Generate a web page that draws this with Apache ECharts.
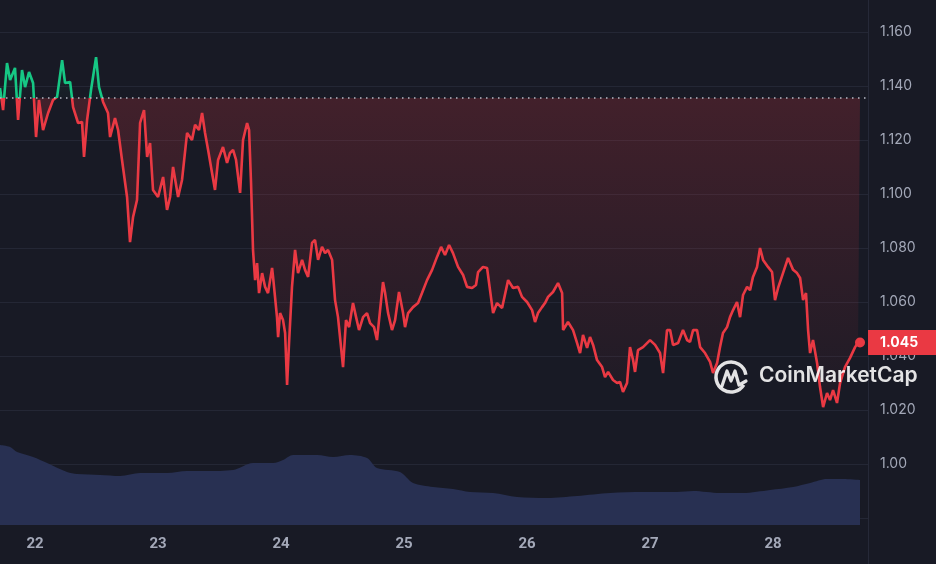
<!DOCTYPE html>
<html>
<head>
<meta charset="utf-8">
<script src="https://cdn.jsdelivr.net/npm/echarts@6/dist/echarts.min.js"></script>
<style>
html,body{margin:0;padding:0;background:#181a25;}
#chart{width:936px;height:564px;}
</style>
</head>
<body>
<div id="chart"></div>
<script>
// ---- data (day of month, price) ----
const days = [21.715,21.740,21.772,21.797,21.837,21.862,21.894,21.919,21.951,21.984,22.008,22.032,22.065,22.106,22.146,22.179,22.220,22.244,22.285,22.309,22.350,22.382,22.398,22.423,22.455,22.496,22.520,22.553,22.593,22.610,22.650,22.675,22.707,22.748,22.772,22.797,22.829,22.854,22.886,22.911,22.935,22.959,23.000,23.041,23.073,23.098,23.122,23.163,23.195,23.236,23.276,23.301,23.333,23.358,23.382,23.407,23.439,23.463,23.488,23.528,23.561,23.585,23.610,23.634,23.667,23.691,23.724,23.740,23.756,23.772,23.789,23.805,23.821,23.846,23.870,23.894,23.927,23.935,23.967,23.976,23.992,24.016,24.033,24.049,24.065,24.089,24.114,24.138,24.171,24.195,24.220,24.252,24.276,24.301,24.333,24.358,24.382,24.415,24.439,24.463,24.504,24.528,24.553,24.585,24.610,24.634,24.667,24.699,24.724,24.756,24.780,24.805,24.829,24.846,24.870,24.902,24.927,24.959,24.992,25.008,25.033,25.073,25.114,25.146,25.187,25.228,25.268,25.301,25.333,25.366,25.398,25.439,25.480,25.512,25.553,25.585,25.602,25.642,25.675,25.699,25.724,25.756,25.797,25.846,25.886,25.927,25.959,26.000,26.041,26.065,26.089,26.122,26.146,26.171,26.211,26.252,26.285,26.293,26.333,26.374,26.407,26.431,26.455,26.488,26.512,26.537,26.569,26.610,26.634,26.659,26.699,26.732,26.756,26.780,26.813,26.837,26.862,26.878,26.902,26.943,27.000,27.041,27.081,27.106,27.138,27.163,27.187,27.228,27.268,27.301,27.325,27.350,27.382,27.407,27.447,27.488,27.512,27.545,27.569,27.593,27.626,27.650,27.675,27.707,27.732,27.756,27.789,27.813,27.837,27.870,27.894,27.919,27.959,27.992,28.016,28.041,28.081,28.122,28.163,28.195,28.220,28.244,28.268,28.285,28.301,28.325,28.358,28.382,28.407,28.439,28.463,28.488,28.520,28.545,28.585,28.626,28.667,28.691,28.707];
const prices = [1.1393,1.1311,1.1485,1.1422,1.1467,1.1274,1.1459,1.1396,1.1452,1.1411,1.1211,1.1348,1.1237,1.1300,1.1348,1.1359,1.1496,1.1411,1.1415,1.1322,1.1263,1.1267,1.1137,1.1274,1.1385,1.1507,1.1396,1.1341,1.1300,1.1211,1.1281,1.1237,1.1126,1.0989,1.0822,1.0915,1.0978,1.1263,1.1311,1.1137,1.1189,1.1015,1.0989,1.1063,1.0941,1.0989,1.1100,1.0989,1.1052,1.1226,1.1200,1.1256,1.1237,1.1300,1.1226,1.1163,1.1078,1.1015,1.1126,1.1174,1.1115,1.1152,1.1163,1.1126,1.1004,1.1200,1.1263,1.1237,1.1041,1.0793,1.0681,1.0744,1.0633,1.0707,1.0656,1.0633,1.0726,1.0693,1.0544,1.0470,1.0559,1.0533,1.0485,1.0293,1.0448,1.0656,1.0793,1.0707,1.0756,1.0719,1.0693,1.0819,1.0830,1.0756,1.0804,1.0781,1.0793,1.0756,1.0607,1.0544,1.0359,1.0533,1.0507,1.0596,1.0544,1.0496,1.0544,1.0559,1.0522,1.0507,1.0459,1.0570,1.0674,1.0633,1.0559,1.0496,1.0533,1.0637,1.0559,1.0507,1.0559,1.0581,1.0596,1.0633,1.0681,1.0719,1.0767,1.0804,1.0774,1.0811,1.0781,1.0730,1.0700,1.0656,1.0652,1.0663,1.0711,1.0730,1.0726,1.0644,1.0559,1.0596,1.0578,1.0681,1.0652,1.0656,1.0619,1.0600,1.0570,1.0526,1.0559,1.0581,1.0596,1.0619,1.0637,1.0670,1.0633,1.0496,1.0526,1.0496,1.0448,1.0411,1.0478,1.0430,1.0470,1.0441,1.0385,1.0359,1.0322,1.0341,1.0311,1.0300,1.0304,1.0267,1.0300,1.0433,1.0385,1.0341,1.0422,1.0433,1.0459,1.0441,1.0411,1.0337,1.0496,1.0496,1.0441,1.0448,1.0496,1.0459,1.0452,1.0496,1.0496,1.0433,1.0411,1.0378,1.0337,1.0374,1.0433,1.0485,1.0507,1.0544,1.0570,1.0600,1.0544,1.0626,1.0656,1.0644,1.0693,1.0730,1.0800,1.0756,1.0730,1.0711,1.0607,1.0652,1.0707,1.0763,1.0719,1.0707,1.0689,1.0607,1.0633,1.0496,1.0411,1.0459,1.0374,1.0285,1.0211,1.0263,1.0237,1.0274,1.0226,1.0300,1.0359,1.0393,1.0433,1.0450,1.0450];
const volDays = [21.715,21.797,21.854,21.984,22.098,22.260,22.341,22.528,22.691,22.854,23.073,23.236,23.398,23.610,23.772,23.935,24.016,24.098,24.293,24.423,24.561,24.699,24.780,24.967,25.073,25.236,25.398,25.537,25.724,25.919,26.163,26.407,26.675,26.943,27.219,27.350,27.569,27.756,27.976,28.163,28.301,28.439,28.569,28.707];
const volumes = [80,78,73,68,62,53,51,50,49,52,52,54,54,55,62,62,65,70,70,68,70,67,57,53,42,38,36,33,32,28,27,29,32,33,33,34,32,32,35,38,42,46,46,45];
const xTickLabels = [22,23,24,25,26,27,28];
const openPrice = 1.1356;
const lastPrice = 1.045;

const RED = '#ea3943', GREEN = '#16c784';
const chart = echarts.init(document.getElementById('chart'), null, {renderer:'canvas'});
const priceData = days.map((d,i)=>[d, prices[i]]);
const volData = volDays.map((d,i)=>[d, volumes[i]]);
const lastPoint = priceData[priceData.length-1];
const xMin = 21.715, xMax = 28.772;
const labelColor = '#a3a8b8';

chart.setOption({
  backgroundColor: '#181a25',
  animation: false,
  grid: [
    {left:0, right:68, top:-22, bottom:-8, outerBoundsMode:'none', containLabel:false},
    {left:0, right:68, top:430, bottom:39, outerBoundsMode:'none', containLabel:false}
  ],
  xAxis: [
    {type:'value', gridIndex:0, min:xMin, max:xMax, show:false},
    {type:'value', gridIndex:1, min:xMin, max:xMax,
     axisLine:{show:false}, axisTick:{show:false}, splitLine:{show:false},
     axisLabel:{customValues:xTickLabels, color:labelColor, fontSize:15, fontWeight:'bold',
       fontFamily:'"Liberation Sans Narrow", Roboto, sans-serif', margin:12,
       formatter:v=>String(Math.round(v))}}
  ],
  yAxis: [
    {type:'value', gridIndex:0, position:'right', min:0.96, max:1.18, interval:0.02,
     axisLine:{show:true, lineStyle:{color:'#262938'}}, axisTick:{show:false},
     splitLine:{lineStyle:{color:'#242735', width:1}},
     axisLabel:{color:labelColor, fontSize:14, fontFamily:'Inter, sans-serif', margin:12,
       formatter:v=> v < 0.99 ? '' : (Math.abs(v-1)<1e-9 ? '1.00' : v.toFixed(3))}},
    {type:'value', gridIndex:1, min:0, max:95, show:false}
  ],
  visualMap: {type:'piecewise', show:false, seriesIndex:0, dimension:1,
    pieces:[{gt:openPrice, lte:2, color:GREEN},{gte:0, lte:openPrice, color:RED}],
    outOfRange:{color:RED}},
  graphic: [
    {type:'arc', shape:{cx:731, cy:377, r:15, startAngle:0.55, endAngle:Math.PI*2-0.15},
     style:{stroke:'rgba(255,255,255,0.88)', lineWidth:3.5, fill:null}, z:100},
    {type:'polyline', shape:{points:[[722,386],[727,371],[731,381],[735,371],[739,385],[746,381]]},
     style:{stroke:'rgba(255,255,255,0.88)', lineWidth:3.2, fill:null, lineJoin:'round', lineCap:'round'}, z:100},
    {type:'text', left:759, top:365,
     style:{text:'CoinMarketCap', fill:'rgba(255,255,255,0.88)', font:'600 21px Inter, sans-serif'}, z:100}
  ],
  series: [
    {type:'line', xAxisIndex:0, yAxisIndex:0, data:priceData, showSymbol:false, symbol:'none',
     lineStyle:{width:2.6}, z:3,
     areaStyle:{origin:openPrice, opacity:1,
       color:{type:'linear', x:0, y:57, x2:0, y2:420, global:true, colorStops:[
         {offset:0, color:'rgba(22,199,132,0.08)'},
         {offset:0.112, color:'rgba(22,199,132,0.02)'},
         {offset:0.113, color:'rgba(234,57,67,0.20)'},
         {offset:1, color:'rgba(234,57,67,0.02)'}]}},
     markLine:{silent:true, symbol:'none', precision:4, data:[
        {yAxis:openPrice, lineStyle:{color:'#b8bcc8', type:[1.5,4.5], width:1.5}, label:{show:false}},
        {yAxis:lastPrice, lineStyle:{color:'rgba(0,0,0,0)', width:0}, label:{show:true, position:'end', distance:0,
          formatter:'1.045', backgroundColor:RED, color:'#fff', fontWeight:'bold', fontSize:14, lineHeight:15,
          fontFamily:'Inter, sans-serif', padding:[5,8,5,12], width:48, align:'left', opacity:1}}
     ]},
     markPoint:{silent:true, data:[{coord:lastPoint, symbol:'circle', symbolSize:10,
        itemStyle:{color:RED}, label:{show:false}}]}
    },
    {type:'line', xAxisIndex:1, yAxisIndex:1, data:volData, showSymbol:false, symbol:'none', smooth:0.3,
     lineStyle:{width:0}, areaStyle:{color:'#283052', opacity:1}, z:2}
  ]
});
</script>
</body>
</html>
